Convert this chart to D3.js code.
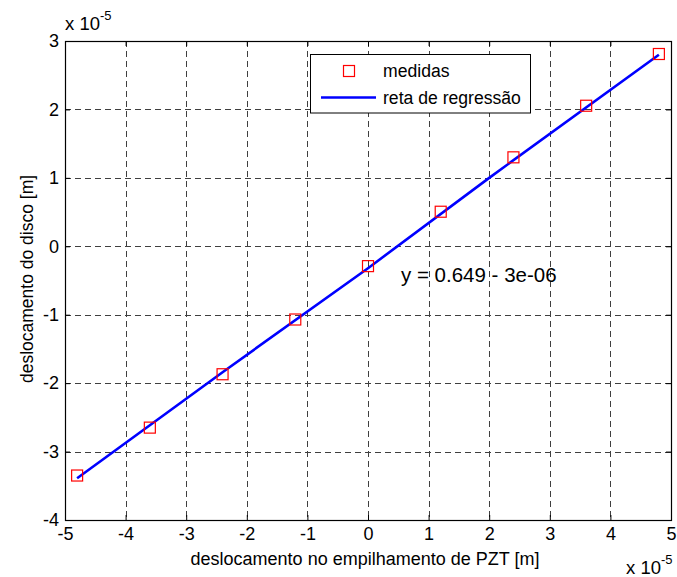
<!DOCTYPE html>
<html>
<head>
<meta charset="utf-8">
<script src="https://cdn.jsdelivr.net/npm/d3@7"></script>
<style>
  body { margin: 0; background: #fff; }
  svg { font-family: Arial, "Liberation Sans", sans-serif; }
</style>
</head>
<body>
<div id="chart"></div>
<script>
// measured points (x 1e-5)
const pztDisp = [-4.8, -3.6, -2.4, -1.2, 0, 1.2, 2.4, 3.6, 4.8];
const discDisp = [-3.35, -2.65, -1.87, -1.07, -0.29, 0.505, 1.30, 2.054, 2.81];
// regression line
const fitX = [-4.8, -2.4, 0, 2, 4.8];
const fitY = [-3.39, -1.84, -0.32, 1.0, 2.80];
const xTicks = [-5, -4, -3, -2, -1, 0, 1, 2, 3, 4, 5];
const yTicks = [-4, -3, -2, -1, 0, 1, 2, 3];
const legendLabels = ['medidas', 'reta de regressão'];
const fitText = 'y = 0.649 - 3e-06';

const W = 677, H = 577;
const L = 65, R = 671, T = 41, B = 520;
const FONT = 'Arial, "Liberation Sans", sans-serif';

const svg = d3.select('#chart').append('svg').attr('width', W).attr('height', H);

const x = d3.scaleLinear().domain([-5, 5]).range([L, R]);
const y = d3.scaleLinear().domain([-4, 3]).range([B, T]);

// grid
const grid = svg.append('g').attr('stroke', '#000').attr('stroke-width', 1)
  .attr('stroke-dasharray', '6,4').attr('opacity', 0.75);
grid.selectAll('.gx').data(xTicks.slice(1, -1)).enter().append('line')
  .attr('x1', d => Math.round(x(d)) + 0.5).attr('x2', d => Math.round(x(d)) + 0.5)
  .attr('y1', T).attr('y2', B);
grid.selectAll('.gy').data(yTicks.slice(1, -1)).enter().append('line')
  .attr('y1', d => Math.round(y(d)) + 0.5).attr('y2', d => Math.round(y(d)) + 0.5)
  .attr('x1', L).attr('x2', R);

// axes (ticks inward, mirrored), plain hyphen minus like the original
const fmt = d => String(d);
const fs = 18;
const styleText = g => g.selectAll('text').attr('font-size', fs).attr('fill', '#000').attr('font-family', FONT);
svg.append('g').attr('transform', `translate(0,${B})`)
  .call(d3.axisBottom(x).tickValues(xTicks).tickFormat(fmt).tickSizeInner(-5).tickSizeOuter(0).tickPadding(7))
  .call(g => g.select('.domain').remove())
  .call(styleText);
svg.append('g').attr('transform', `translate(0,${T})`)
  .call(d3.axisTop(x).tickValues(xTicks).tickSizeInner(-5).tickSizeOuter(0).tickFormat(''))
  .call(g => g.select('.domain').remove());
svg.append('g').attr('transform', `translate(${L},0)`)
  .call(d3.axisLeft(y).tickValues(yTicks).tickFormat(fmt).tickSizeInner(-5).tickSizeOuter(0).tickPadding(6))
  .call(g => g.select('.domain').remove())
  .call(styleText);
svg.append('g').attr('transform', `translate(${R},0)`)
  .call(d3.axisRight(y).tickValues(yTicks).tickSizeInner(-5).tickSizeOuter(0).tickFormat(''))
  .call(g => g.select('.domain').remove());

svg.append('rect').attr('x', L + 0.5).attr('y', T + 0.5).attr('width', R - L).attr('height', B - T)
  .attr('fill', 'none').attr('stroke', '#000').attr('stroke-width', 1.2);

// regression line
svg.append('path').datum(d3.zip(fitX, fitY))
  .attr('d', d3.line().x(d => x(d[0])).y(d => y(d[1])))
  .attr('fill', 'none').attr('stroke', '#0000ff').attr('stroke-width', 2.6)
  .attr('stroke-linejoin', 'round');

// markers
const ms = 11;
svg.selectAll('.pt').data(d3.zip(pztDisp, discDisp)).enter().append('rect')
  .attr('x', d => x(d[0]) - ms / 2).attr('y', d => y(d[1]) - ms / 2)
  .attr('width', ms).attr('height', ms)
  .attr('fill', 'none').attr('stroke', '#ff0000').attr('stroke-width', 1.2);

// fit annotation
svg.append('text').attr('x', 401).attr('y', 282).attr('font-size', 20.5).text(fitText);

// legend
const lg = svg.append('g');
lg.append('rect').attr('x', 310.5).attr('y', 54.5).attr('width', 220).attr('height', 58.5)
  .attr('fill', '#fff').attr('stroke', '#000').attr('stroke-width', 1);
lg.append('rect').attr('x', 349 - ms / 2).attr('y', 71 - ms / 2).attr('width', ms).attr('height', ms)
  .attr('fill', 'none').attr('stroke', '#ff0000').attr('stroke-width', 1.2);
lg.append('line').attr('x1', 321).attr('x2', 376).attr('y1', 97.5).attr('y2', 97.5)
  .attr('stroke', '#0000ff').attr('stroke-width', 2.6);
lg.selectAll('.lt').data(legendLabels).enter().append('text')
  .attr('x', 383).attr('y', (d, i) => 77 + i * 26.5).attr('font-size', 17.6).text(d => d);

// axis labels
svg.append('text').attr('x', (L + R) / 2 - 3).attr('y', 565).attr('text-anchor', 'middle')
  .attr('font-size', 18).text('deslocamento no empilhamento de PZT [m]');
svg.append('text').attr('transform', 'translate(33,279) rotate(-90)').attr('text-anchor', 'middle')
  .attr('font-size', 17.5).text('deslocamento do disco [m]');

// exponent notes
function expo(px, py) {
  const t = svg.append('text').attr('x', px).attr('y', py).attr('font-size', 18.5);
  t.append('tspan').text('x 10');
  t.append('tspan').attr('dy', -10).attr('font-size', 13).text('-5');
}
expo(65, 30);
expo(626, 574);
</script>
</body>
</html>
